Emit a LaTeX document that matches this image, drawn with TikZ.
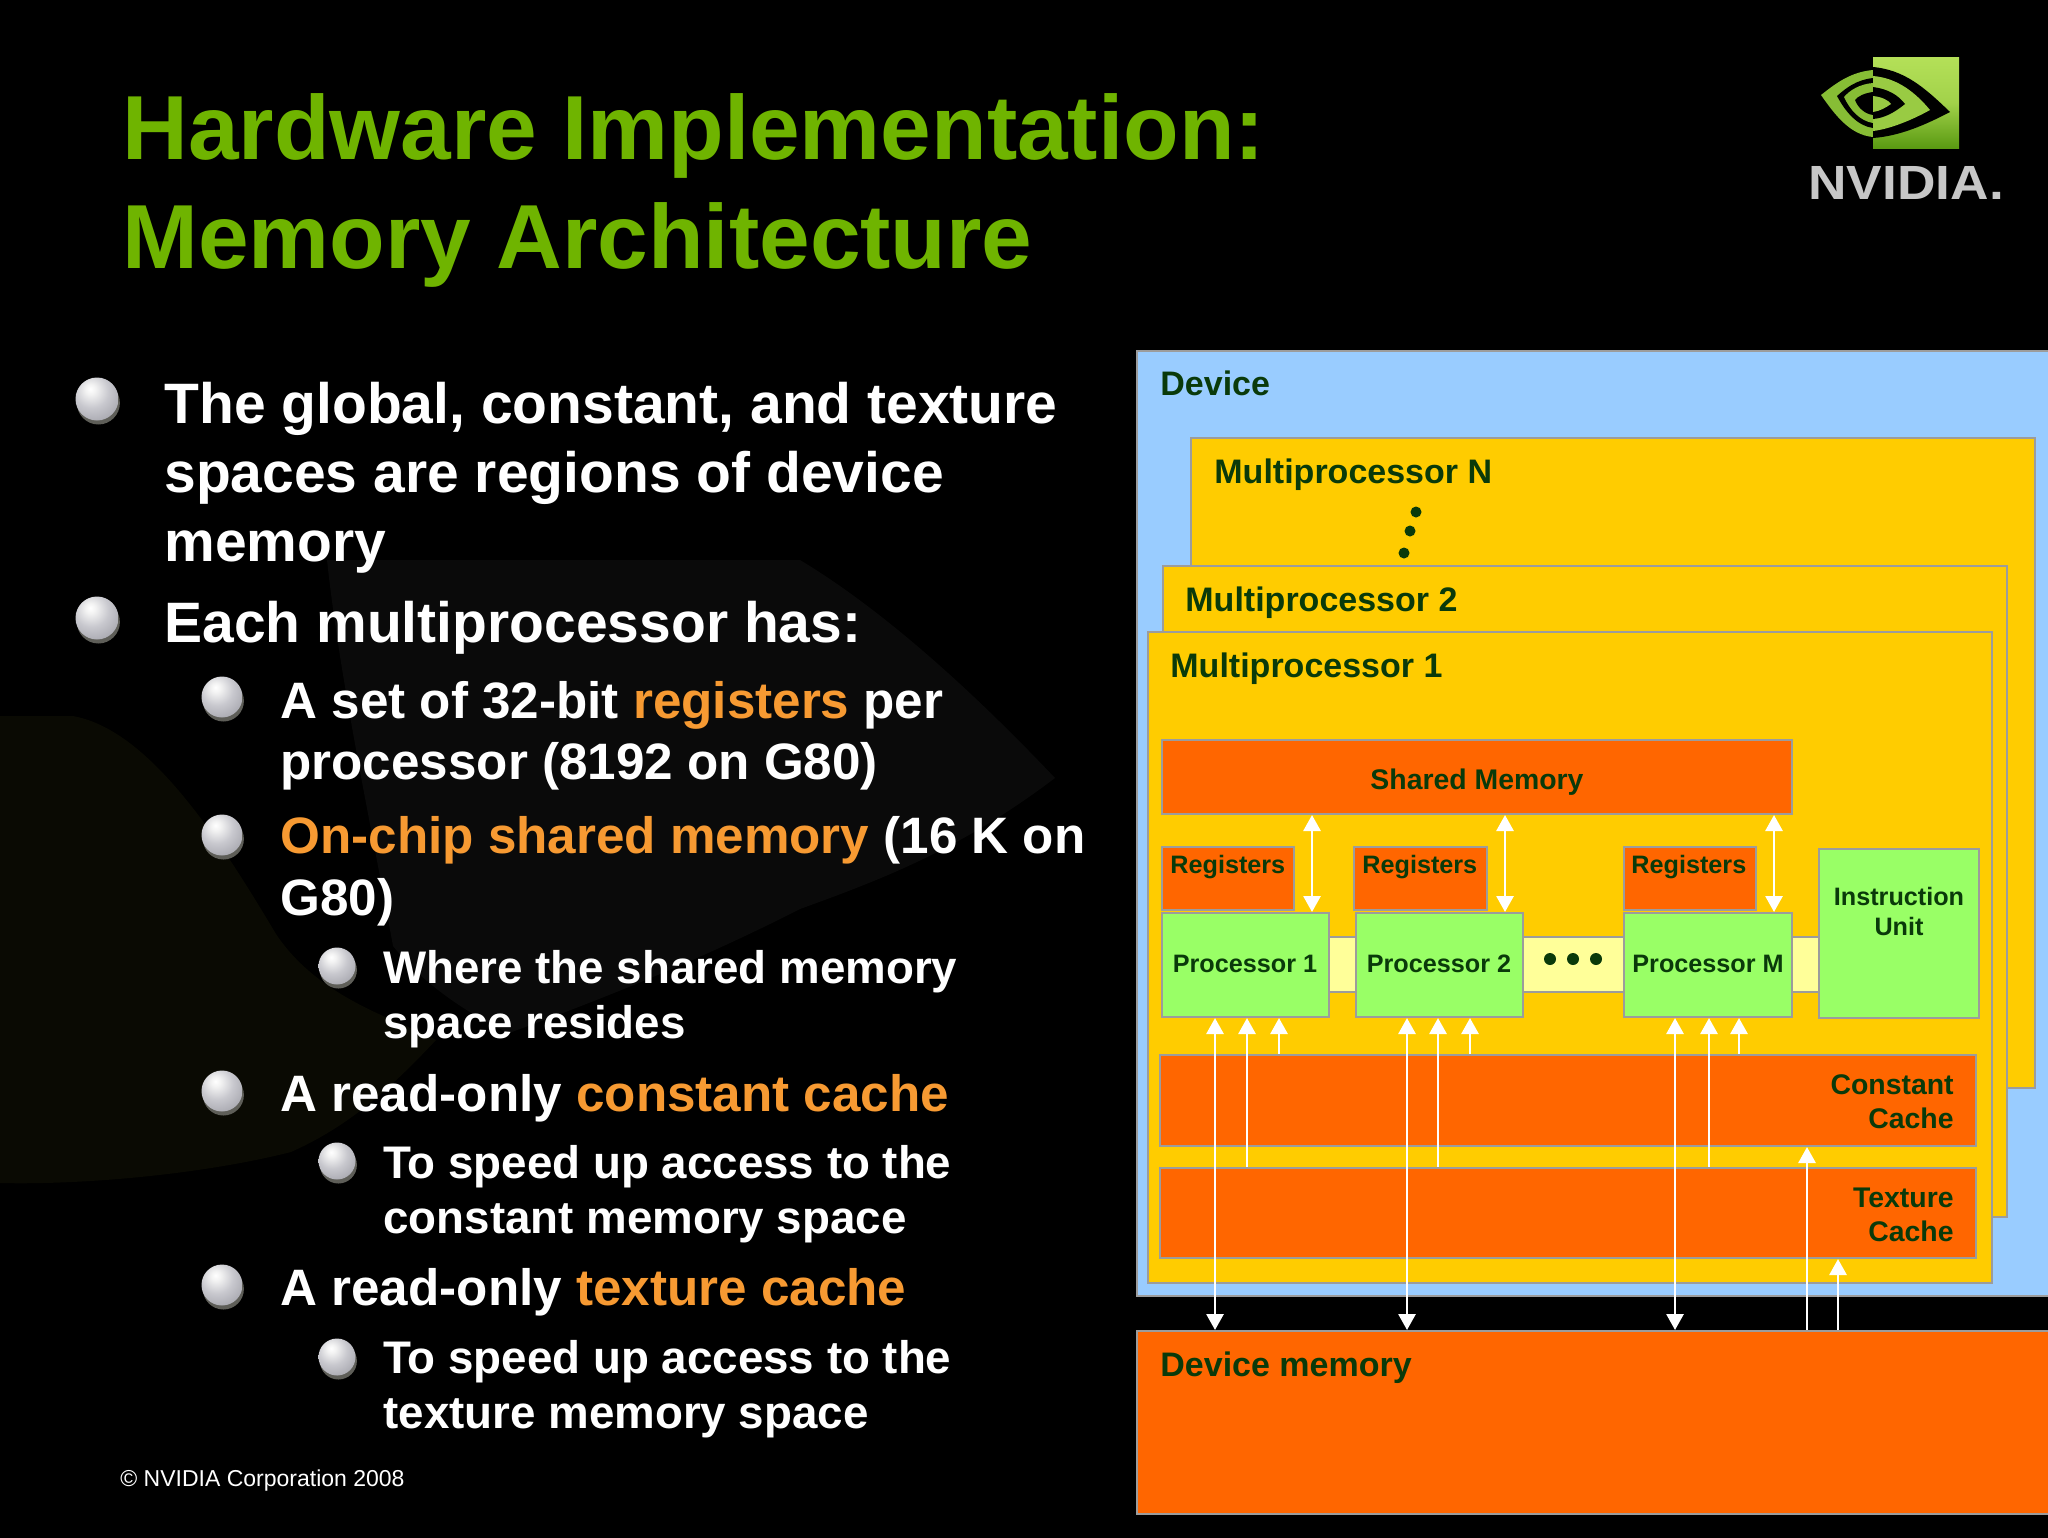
\documentclass[tikz,border=0pt]{standalone}
\usepackage{fontspec}
\setmainfont{Liberation Sans}
\usepackage{xcolor}
\usetikzlibrary{
  calc,
  positioning,
  arrows.meta,
  fit,
  shapes.geometric
}
\definecolor{nvgreen}{HTML}{6FB400}
\definecolor{hiorange}{HTML}{F79A32}
\definecolor{inkgreen}{HTML}{0A3A0A}
\definecolor{edgegray}{HTML}{9C9C9C}
\definecolor{devblue}{HTML}{99CCFF}
\definecolor{mpyellow}{HTML}{FFCC00}
\definecolor{memorange}{HTML}{FF6600}
\definecolor{procgreen}{HTML}{99FF66}
\definecolor{buspale}{HTML}{FFFF99}
\definecolor{swirlolive}{HTML}{0A0A03}
\definecolor{swirlgray}{HTML}{0A0A0A}
\definecolor{ballrim}{HTML}{5E5E58}
\definecolor{balllight}{HTML}{C8C8CE}
\definecolor{ballmid}{HTML}{A0A0A8}
\definecolor{balldark}{HTML}{70707A}
\definecolor{logolight}{HTML}{B4E058}
\definecolor{logodark}{HTML}{5A9A12}
\pgfdeclareradialshading{pearl}{\pgfpoint{-8bp}{12bp}}{
  color(0bp)=(white);
  color(6bp)=(white!90!gray);
  color(20bp)=(balllight);
  color(40bp)=(ballmid);
  color(60bp)=(balldark);
  color(100bp)=(balldark)
}

\begin{document}
\begin{tikzpicture}[x=0.5pt,y=-0.5pt,> =Latex]
  \tikzset{
    titleline/.style={anchor=base west,inner sep=0,text=nvgreen,
      font=\fontsize{45.5pt}{50pt}\selectfont\bfseries},
    bodya/.style={anchor=base west,inner sep=0,text=white,align=left,
      font=\fontsize{28.5pt}{34.3pt}\selectfont\bfseries},
    bodyb/.style={anchor=base west,inner sep=0,text=white,align=left,
      font=\fontsize{25.6pt}{30.7pt}\selectfont\bfseries},
    bodyc/.style={anchor=base west,inner sep=0,text=white,align=left,
      font=\fontsize{22.85pt}{27.4pt}\selectfont\bfseries},
    ballbase/.style={circle,inner sep=0,shading=pearl,
      preaction={fill=ballrim,transform canvas={xshift=0.7pt,yshift=-2pt}}},
    balla/.style={ballbase,minimum size=21.5pt},
    ballb/.style={ballbase,minimum size=20.5pt},
    ballc/.style={ballbase,minimum size=18.5pt},
    block/.style={draw=edgegray,line width=1pt,inner sep=0},
    tag/.style={anchor=base west,inner sep=0,text=inkgreen,
      font=\fontsize{17pt}{20pt}\selectfont\bfseries},
    tagsmall/.style={tag,font=\fontsize{12.6pt}{15pt}\selectfont\bfseries},
    tagcache/.style={tag,anchor=base east,align=right,
      font=\fontsize{14.2pt}{17pt}\selectfont\bfseries},
    wire/.style={draw=white,line width=1.4pt},
    wiretip/.style={wire,-{Triangle[width=8.5pt,length=8pt]}},
    wiretips/.style={wire,{Triangle[width=8.5pt,length=8pt]}-{Triangle[width=8.5pt,length=8pt]}},
    dotmark/.style={circle,fill=inkgreen,inner sep=0},
  }
  \useasboundingbox (0,0) rectangle (2048,1537);
  \clip (-4,-4) rectangle (2052,1541);
  \fill[black] (-4,-4) rectangle (2052,1541);

  \fill[swirlolive] (0,716) -- (73,716) .. controls (150,730) and (220,840) .. (276,934)
    .. controls (320,1000) and (400,1020) .. (436,1040) .. controls (380,1100) and (340,1130) .. (291,1152)
    .. controls (200,1175) and (80,1185) .. (0,1183) -- cycle;
  \fill[swirlgray] (327,560) -- (800,560) .. controls (900,620) and (1000,720) .. (1055,778)
    .. controls (960,850) and (880,880) .. (800,909) .. controls (700,960) and (600,1000) .. (509,1033)
    .. controls (460,1010) and (420,980) .. (393,946) .. controls (370,820) and (340,680) .. (327,560) -- cycle;

  \node[titleline] (titlea) at (122,159) {Hardware Implementation:};
  \node[titleline] (titleb) at (122,268) {Memory Architecture};

  \shade[top color=logolight,bottom color=logodark,middle color=logolight!80!logodark]
    (1873,57) rectangle (1959,148);
  \fill[logolight!50!logodark] (1873,70) .. controls (1850,72) and (1835,84) .. (1821,95)
    .. controls (1835,115) and (1850,135) .. (1873,137) -- cycle;
  \fill[black] (1873,78) .. controls (1856,80) and (1846,88) .. (1837,96)
    .. controls (1846,113) and (1858,126) .. (1873,128) -- cycle;
  \fill[logolight!50!logodark] (1873,83) .. controls (1860,84) and (1850,90) .. (1844,97)
    .. controls (1850,110) and (1860,121) .. (1873,123) -- cycle;
  \fill[black] (1873,92) .. controls (1865,93) and (1858,96) .. (1855,100)
    .. controls (1858,108) and (1865,114) .. (1873,115) -- cycle;
  \fill[black] (1873,67) .. controls (1905,70) and (1925,88) .. (1950,112)
    .. controls (1925,125) and (1900,136) .. (1873,138) -- cycle;
  \fill[logolight!70!logodark] (1873,76) .. controls (1897,78) and (1915,92) .. (1930,110)
    .. controls (1912,120) and (1890,129) .. (1873,131) -- cycle;
  \fill[black] (1873,87) .. controls (1888,89) and (1898,95) .. (1905,104)
    .. controls (1895,112) and (1885,118) .. (1873,119) -- cycle;
  \fill[logolight!70!logodark] (1873,96) .. controls (1882,97) and (1888,100) .. (1891,104)
    .. controls (1885,108) and (1880,111) .. (1873,112) -- cycle;
  \node[anchor=base west,inner sep=0,text=black!22,xscale=1.11,transform shape,
    font=\fontsize{24pt}{28pt}\selectfont\bfseries] (logoname) at (1808,199) {NVIDIA.};

  \node[balla] (ballglobal) at (97,399) {};
  \node[balla] (balleach) at (97,618) {};
  \node[ballb] (ballset) at (222,697) {};
  \node[ballb] (ballchip) at (222,835) {};
  \node[ballb] (ballconst) at (222,1091) {};
  \node[ballb] (balltex) at (222,1285) {};
  \node[ballc] (ballwhere) at (337,966) {};
  \node[ballc] (ballspeeda) at (337,1161) {};
  \node[ballc] (ballspeedb) at (337,1357) {};

  \node[bodya] (global) at (164,561) {The global, constant, and texture\\spaces are regions of device\\memory};
  \node[bodya] (each) at (164,642.6) {Each multiprocessor has:};
  \node[bodyb] (set) at (280,779.5) {A set of 32-bit \textcolor{hiorange}{registers} per\\processor (8192 on G80)};
  \node[bodyb] (chip) at (280,915) {\textcolor{hiorange}{On-chip shared memory} (16 K on\\G80)};
  \node[bodyc] (where) at (383,1038) {Where the shared memory\\space resides};
  \node[bodyb] (const) at (280,1111) {A read-only \textcolor{hiorange}{constant cache}};
  \node[bodyc] (speeda) at (383,1233.5) {To speed up access to the\\constant memory space};
  \node[bodyb] (tex) at (280,1305.5) {A read-only \textcolor{hiorange}{texture cache}};
  \node[bodyc] (speedb) at (383,1428) {To speed up access to the\\texture memory space};
  \node[anchor=base west,inner sep=0,text=white,font=\fontsize{11.5pt}{14pt}\selectfont] (copyright) at (120,1486) {© NVIDIA Corporation 2008};

  \node[block,fill=devblue,fit={(1137,351)(2056,1296)}] (device) {};
  \node[block,fill=memorange,fit={(1137,1331)(2056,1514)}] (devmem) {};
  \node[block,fill=mpyellow,fit={(1191,438)(2035,1088)}] (mpn) {};
  \node[block,fill=mpyellow,fit={(1163,566)(2007,1217)}] (mpb) {};
  \node[block,fill=mpyellow,fit={(1148,632)(1992,1283)}] (mpa) {};

  \node[tag] (devicetag) at (1160,395) {Device};
  \node[tag] (devmemtag) at (1160,1376) {Device memory};
  \node[tag] (mpntag) at (1214,483) {Multiprocessor N};
  \node[tag] (mpbtag) at (1185,611) {Multiprocessor 2};
  \node[tag] (mpatag) at (1170,677) {Multiprocessor 1};
  \node[dotmark,minimum size=5.5pt] (vdota) at (1416,512) {};
  \node[dotmark,minimum size=5.5pt] (vdotb) at (1410,531) {};
  \node[dotmark,minimum size=5.5pt] (vdotc) at (1404,553) {};

  \node[block,fill=buspale,fit={(1329,937)(1819,992)}] (bus) {};
  \node[block,fill=memorange,fit={(1162,740)(1792,814)}] (shared) {};
  \node[tag,anchor=base,font=\fontsize{14.2pt}{18pt}\selectfont\bfseries] (sharedtag) at (1477,789) {Shared Memory};
  \node[block,fill=memorange,fit={(1162,847)(1294,910)}] (rega) {};
  \node[block,fill=memorange,fit={(1354,847)(1487,910)}] (regb) {};
  \node[block,fill=memorange,fit={(1624,847)(1756,910)}] (regm) {};
  \node[tagsmall] (regatag) at (1170,873) {Registers};
  \node[tagsmall] (regbtag) at (1362,873) {Registers};
  \node[tagsmall] (regmtag) at (1631,873) {Registers};
  \node[block,fill=procgreen,fit={(1162,913)(1329,1017)}] (proca) {};
  \node[block,fill=procgreen,fit={(1356,913)(1523,1017)}] (procb) {};
  \node[block,fill=procgreen,fit={(1624,913)(1792,1017)}] (procm) {};
  \node[tagsmall,anchor=base] (procatag) at (1245,972) {Processor 1};
  \node[tagsmall,anchor=base] (procbtag) at (1439,972) {Processor 2};
  \node[tagsmall,anchor=base] (procmtag) at (1708,972) {Processor M};
  \node[block,fill=procgreen,fit={(1819,849)(1979,1018)}] (instr) {};
  \node[tagsmall,anchor=base,align=center] (instrtag) at (1899,935) {Instruction\\Unit};
  \node[dotmark,minimum size=6pt] (hdota) at (1550,959) {};
  \node[dotmark,minimum size=6pt] (hdotb) at (1573,959) {};
  \node[dotmark,minimum size=6pt] (hdotc) at (1596,959) {};

  \node[block,fill=memorange,fit={(1160,1055)(1976,1146)}] (constcache) {};
  \node[block,fill=memorange,fit={(1160,1168)(1976,1258)}] (texcache) {};
  \node[tagcache] (consttag) at (1954,1128) {Constant\\Cache};
  \node[tagcache] (textag) at (1954,1241) {Texture\\Cache};

  \coordinate (xa) at (1312,0);
  \coordinate (xb) at (1505,0);
  \coordinate (xm) at (1774,0);
  \draw[wiretips] (shared.south -| xa) -- (proca.north -| xa);
  \draw[wiretips] (shared.south -| xb) -- (procb.north -| xb);
  \draw[wiretips] (shared.south -| xm) -- (procm.north -| xm);

  \coordinate (pa) at (1215,0);
  \coordinate (pb) at (1247,0);
  \coordinate (pc) at (1279,0);
  \coordinate (qa) at (1407,0);
  \coordinate (qb) at (1438,0);
  \coordinate (qc) at (1470,0);
  \coordinate (ma) at (1675,0);
  \coordinate (mb) at (1709,0);
  \coordinate (mc) at (1739,0);
  \draw[wiretips] (devmem.north -| pa) -- (proca.south -| pa);
  \draw[wiretips] (devmem.north -| qa) -- (procb.south -| qa);
  \draw[wiretips] (devmem.north -| ma) -- (procm.south -| ma);
  \draw[wiretip] (texcache.north -| pb) -- (proca.south -| pb);
  \draw[wiretip] (texcache.north -| qb) -- (procb.south -| qb);
  \draw[wiretip] (texcache.north -| mb) -- (procm.south -| mb);
  \draw[wiretip] (constcache.north -| pc) -- (proca.south -| pc);
  \draw[wiretip] (constcache.north -| qc) -- (procb.south -| qc);
  \draw[wiretip] (constcache.north -| mc) -- (procm.south -| mc);

  \coordinate (ca) at (1807,0);
  \coordinate (cb) at (1838,0);
  \draw[wiretip] (devmem.north -| ca) -- (constcache.south -| ca);
  \draw[wiretip] (devmem.north -| cb) -- (texcache.south -| cb);
\end{tikzpicture}
\end{document}
